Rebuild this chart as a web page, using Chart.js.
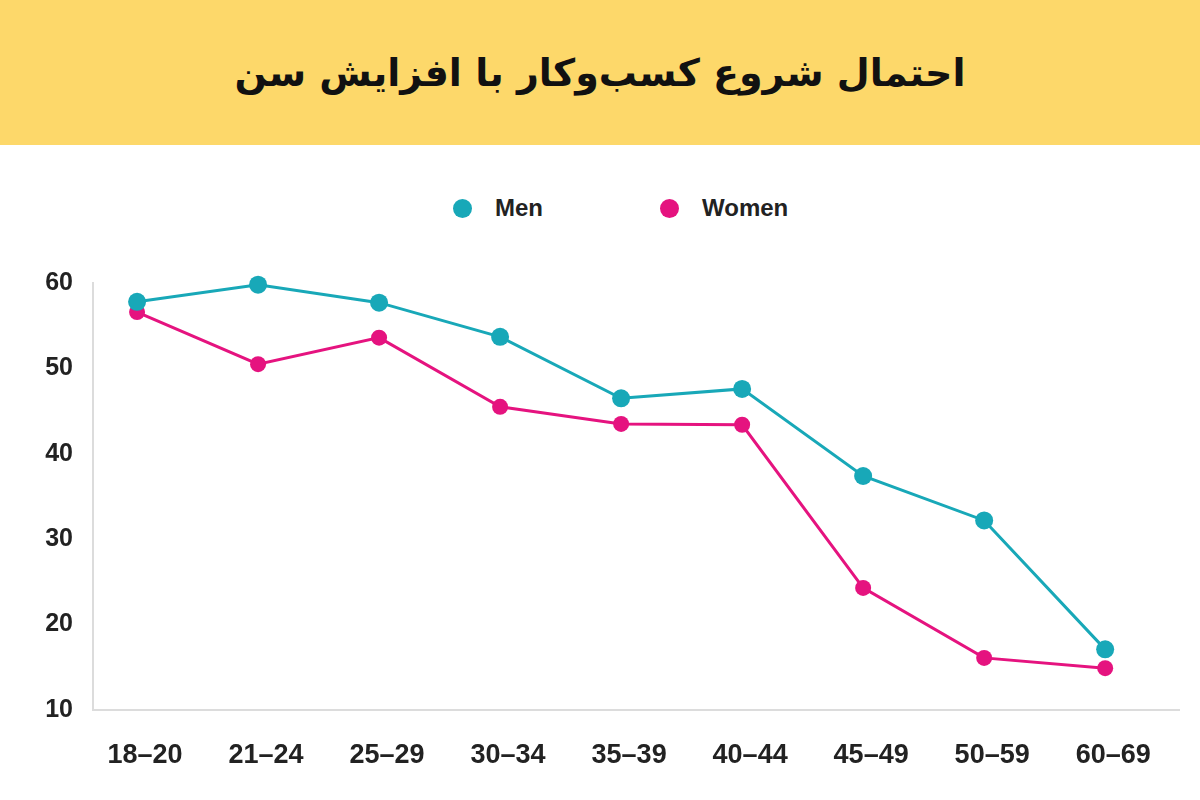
<!DOCTYPE html>
<html>
<head>
<meta charset="utf-8">
<script src="https://cdn.jsdelivr.net/npm/chart.js@4.4.1/dist/chart.umd.min.js"></script>
<style>
  body { margin: 0; width: 1200px; height: 800px; background: #fff; position: relative; overflow: hidden; }
  .header { position: absolute; left: 0; top: 0; width: 1200px; height: 145px; background: #fdd86a; }
  .header h1 { margin: 0; position: absolute; left: 0; right: 0; top: 73px; transform: translateY(-50%);
    text-align: center; direction: rtl; font-family: "DejaVu Sans", sans-serif; font-weight: bold; font-size: 38px; color: #111; }
  .legend_item { position: absolute; top: 208px; transform: translateY(-50%); display: flex; align-items: center;
    font-family: "Liberation Sans", Arial, sans-serif; font-weight: bold; font-size: 24px; color: #222; }
  .legend_item .dot { width: 19px; height: 19px; border-radius: 50%; margin-right: 23px; }
  #chart { position: absolute; left: 0; top: 0; }
</style>
</head>
<body>
<div class="header"><h1>احتمال شروع کسب‌وکار با افزایش سن</h1></div>

<div class="legend_item" style="left:453px"><span class="dot" style="background:#18a8b8"></span>Men</div>
<div class="legend_item" style="left:660px"><span class="dot" style="background:#e5137f"></span>Women</div>

<canvas id="chart" width="1200" height="800"></canvas>

<script>
// 연령대
const ageGroups = ['18–20', '21–24', '25–29', '30–34', '35–39', '40–44', '45–49', '50–59', '60–69'];
const menValues = [57.8, 59.8, 57.7, 53.7, 46.5, 47.6, 37.4, 32.2, 17.1];
const womenValues = [56.6, 50.5, 53.6, 45.5, 43.5, 43.4, 24.3, 16.1, 14.9];
const yTicks = [10, 20, 30, 40, 50, 60];

const teal = '#18a8b8';
const pink = '#e5137f';

function toPoints(values) {
    return values.map(function(v, i) { return { x: i, y: v }; });
}

var ctx = document.getElementById('chart');
var chart = new Chart(ctx, {
    type: 'line',
    data: {
        datasets: [{
            label: 'Men',
            data: toPoints(menValues),
            borderColor: teal,
            backgroundColor: teal,
            pointBackgroundColor: teal,
            pointBorderWidth: 0,
            pointRadius: 9,
            borderWidth: 3,
            clip: false
        },
        {
            label: 'Women',
            data: toPoints(womenValues),
            borderColor: pink,
            backgroundColor: pink,
            pointBackgroundColor: pink,
            pointBorderWidth: 0,
            pointRadius: 8,
            borderWidth: 3,
            clip: false
        }]
    },
    options: {
        responsive: false,
        animation: false,
        layout: { padding: { top: 283, right: 21, left: 0, bottom: 0 } },
        plugins: {
            legend: { display: false },
            tooltip: { enabled: false }
        },
        scales: {
            x: {
                type: 'linear',
                min: -0.364,
                max: 8.61,
                afterBuildTicks: function(scale) {
                    scale.ticks = ageGroups.map(function(_, i) { return { value: i }; });
                },
                afterFit: function(scale) { scale.height = 90; },
                grid: { display: false },
                border: { color: '#dcdcdc', width: 2 },
                ticks: {
                    callback: function(v) { return ageGroups[v]; },
                    autoSkip: false,
                    maxRotation: 0,
                    labelOffset: 8,
                    padding: 21,
                    color: '#222',
                    font: { family: '"Liberation Sans Narrow", "Liberation Sans", sans-serif', weight: 'bold', size: 27 }
                }
            },
            y: {
                min: 10,
                max: 60,
                afterBuildTicks: function(scale) {
                    scale.ticks = yTicks.map(function(v) { return { value: v }; });
                },
                afterFit: function(scale) { scale.width = 93; },
                grid: { display: false },
                border: { color: '#dcdcdc', width: 2 },
                ticks: {
                    padding: 12,
                    color: '#222',
                    font: { family: '"Liberation Sans", sans-serif', weight: 'bold', size: 25 }
                }
            }
        }
    }
});
</script>
</body>
</html>
